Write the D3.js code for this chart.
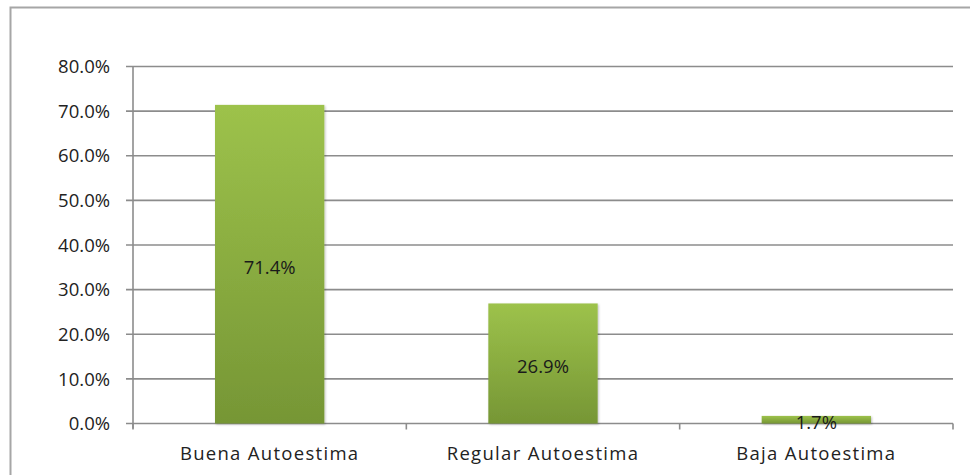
<!DOCTYPE html>
<html><head><meta charset="utf-8">
<script src="https://cdn.jsdelivr.net/npm/d3@7"></script>
<style>body{margin:0;background:#fff}svg{display:block}</style>
</head><body><svg id="c" width="970" height="475"></svg>
<script>
const categories = ["Buena Autoestima", "Regular Autoestima", "Baja Autoestima"];
const values = [71.4, 26.9, 1.7];
const yTicks = [0, 10, 20, 30, 40, 50, 60, 70, 80];

const svg = d3.select("#c");
const font = "'Open Sans', sans-serif";
const m = {l: 133, r: 953, t: 66.5, b: 423.5};

// outer frame
svg.append("rect").attr("x", 10.5).attr("y", 7.5).attr("width", 980).attr("height", 480)
  .attr("fill", "none").attr("stroke", "#a6a6a6").attr("stroke-width", 2);

const x = d3.scaleBand().domain(categories).range([m.l, m.r]).paddingInner(0.6).paddingOuter(0.3);
const xb = d3.scaleBand().domain(categories).range([m.l, m.r]);
const y = d3.scaleLinear().domain([0, 80]).range([m.b, m.t]);

const defs = svg.append("defs");
const g = defs.append("linearGradient").attr("id", "bg").attr("x1", 0).attr("y1", 0).attr("x2", 0).attr("y2", 1);
g.append("stop").attr("offset", "0%").attr("stop-color", "#9dc24b");
g.append("stop").attr("offset", "100%").attr("stop-color", "#769635");
const f = defs.append("filter").attr("id", "sh").attr("x", "-10%").attr("y", "-10%").attr("width", "130%").attr("height", "130%");
f.append("feDropShadow").attr("dx", 1).attr("dy", 1).attr("stdDeviation", 1.2).attr("flood-color", "#000").attr("flood-opacity", 0.25);

// gridlines
svg.append("g").selectAll("line").data(yTicks).join("line")
  .attr("x1", m.l - 7).attr("x2", m.r)
  .attr("y1", d => y(d)).attr("y2", d => y(d))
  .attr("stroke", "#8c8c8c").attr("stroke-width", 1.6);

// y axis line
svg.append("line").attr("x1", m.l).attr("x2", m.l).attr("y1", m.t).attr("y2", m.b + 5)
  .attr("stroke", "#8c8c8c").attr("stroke-width", 1.6);
// x tick marks at category boundaries
const bounds = categories.map(c => xb(c)).concat([m.r]);
svg.append("g").selectAll("line").data(bounds).join("line")
  .attr("x1", d => d).attr("x2", d => d).attr("y1", m.b).attr("y2", m.b + 6)
  .attr("stroke", "#8c8c8c").attr("stroke-width", 1.6);

// y labels
svg.append("g").selectAll("text").data(yTicks).join("text")
  .attr("x", 110).attr("y", d => y(d)).attr("dy", "0.36em")
  .attr("text-anchor", "end").attr("font-family", font).attr("font-size", 18.5)
  .attr("fill", "#222").text(d => d.toFixed(1) + "%");

// bars
svg.append("g").selectAll("rect").data(values).join("rect")
  .attr("x", (d, i) => x(categories[i])).attr("width", x.bandwidth())
  .attr("y", d => y(d)).attr("height", d => y(0) - y(d))
  .attr("fill", "url(#bg)").attr("filter", "url(#sh)");

// data labels
svg.append("g").selectAll("text").data(values).join("text")
  .attr("x", (d, i) => x(categories[i]) + x.bandwidth() / 2)
  .attr("y", d => (y(d) + y(0)) / 2 + 3).attr("dy", "0.36em")
  .attr("text-anchor", "middle").attr("font-family", font).attr("font-size", 18.5)
  .attr("fill", "#1a1a1a").text(d => d.toFixed(1) + "%");

// category labels
svg.append("g").selectAll("text").data(categories).join("text")
  .attr("x", c => xb(c) + xb.bandwidth() / 2).attr("y", 453).attr("dy", "0.36em")
  .attr("text-anchor", "middle").attr("font-family", font).attr("font-size", 18.5)
  .attr("letter-spacing", 1.3)
  .attr("fill", "#222").text(c => c);
</script></body></html>
